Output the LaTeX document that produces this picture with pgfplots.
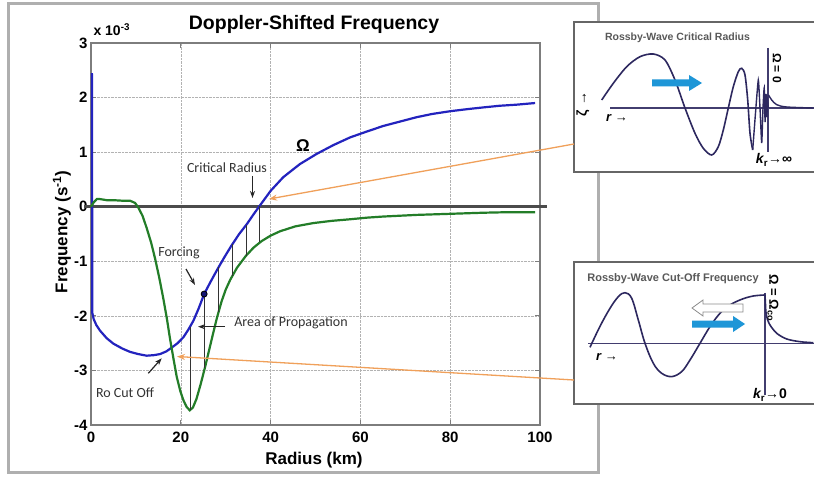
\documentclass[border=0pt]{standalone}
\usepackage{pgfplots}
\pgfplotsset{compat=1.18}
\usepackage{fontspec}
\setmainfont{Liberation Sans}
\newfontfamily\annfont{Carlito}
\usetikzlibrary{arrows.meta}
\definecolor{mblue}{RGB}{35,35,190}
\definecolor{mgreen}{RGB}{35,125,40}
\definecolor{zline}{RGB}{75,75,75}
\definecolor{framegray}{RGB}{175,175,175}
\definecolor{axgray}{RGB}{125,125,125}
\definecolor{orng}{RGB}{240,160,90}
\definecolor{wave}{RGB}{45,40,95}
\definecolor{arrblue}{RGB}{30,150,215}
\begin{document}
\begin{tikzpicture}[x=1pt,y=1pt]
\useasboundingbox (0,0) rectangle (814,480);
\fill[white] (0,0) rectangle (814,480);
\draw[framegray, line width=3pt] (8.5,8) rectangle (598,476.5);

\begin{axis}[
  at={(91pt,55pt)}, anchor=south west,
  scale only axis, width=449pt, height=382pt,
  xmin=0, xmax=100, ymin=-4, ymax=3,
  xtick={0,20,40,60,80,100}, ytick={-4,-3,-2,-1,0,1,2,3},
  xticklabels={0,20,40,60,80,100},
  yticklabels={-4,-3,-2,-1,0,1,2,3},
  grid=major, major grid style={densely dotted, black!30, line width=0.6pt},
  axis line style={axgray, line width=1.6pt},
  tick style={axgray, line width=0.8pt},
  tick align=inside, major tick length=5pt,
  ticklabel style={font=\fontsize{15}{15}\selectfont\bfseries},
  xticklabel style={yshift=-3pt},
  clip=false,
]
\addplot[zline, line width=3.5pt] coordinates {(-1.5,0) (101.5,0)};
\addplot[mblue, line width=2.2pt] coordinates {
(0.2,2.45) (0.3,-1.95) (0.6,-2.06) (1.2,-2.17) (2,-2.27) (3.5,-2.41) (5,-2.51) (7,-2.6) (8.7,-2.66) (10.5,-2.7) (12.4,-2.73) (14,-2.72) (15.4,-2.7) (16.8,-2.65) (18,-2.58) (19.3,-2.5) (20.6,-2.39) (21.7,-2.25) (22.8,-2.09) (24,-1.86) (25.2,-1.6) (26.6,-1.38) (28,-1.17) (29.6,-0.94) (31.3,-0.71) (33,-0.5) (34.7,-0.32) (36.2,-0.14) (37.6,0.02) (40,0.29) (42.8,0.54) (46.5,0.78) (50.3,0.97) (54,1.13) (57.7,1.27) (61.5,1.38) (65.1,1.48) (68.8,1.56) (72.5,1.64) (76,1.7) (80,1.75) (84,1.79) (87.4,1.82) (91,1.85) (94.8,1.87) (98.9,1.9)};
\addplot[mgreen, line width=2.2pt] coordinates {
(0,0) (0.6,0.08) (1.3,0.14) (2,0.14) (3.5,0.12) (5,0.12) (7,0.11) (8.7,0.11) (9.8,0.07) (10.5,-0.01) (11.5,-0.17) (12.4,-0.39) (13.4,-0.66) (14.3,-0.96) (15.2,-1.3) (16.1,-1.68) (16.9,-2.05) (17.6,-2.42) (18.4,-2.8) (19.1,-3.12) (19.9,-3.38) (20.6,-3.55) (21.3,-3.67) (22,-3.73) (22.7,-3.68) (23.5,-3.52) (24.4,-3.26) (25.4,-2.94) (26.3,-2.63) (27.2,-2.32) (28.1,-2.02) (29.1,-1.73) (30,-1.52) (31,-1.34) (32.5,-1.12) (34.5,-0.9) (36.2,-0.75) (38,-0.63) (40,-0.53) (42.1,-0.45) (45.5,-0.36) (49.5,-0.3) (53.5,-0.26) (57.7,-0.23) (61.5,-0.2) (65.1,-0.18) (72.5,-0.15) (80,-0.13) (87.4,-0.11) (93,-0.1) (98.9,-0.1)};
\addplot[black!80, line width=0.7pt] coordinates {(22.05,-2.2) (22.05,-3.73)};
\addplot[black!80, line width=0.7pt] coordinates {(25.2,-1.6) (25.2,-2.95)};
\addplot[black!80, line width=0.7pt] coordinates {(28.4,-1.11) (28.4,-1.93)};
\addplot[black!80, line width=0.7pt] coordinates {(31.5,-0.69) (31.5,-1.27)};
\addplot[black!80, line width=0.7pt] coordinates {(34.5,-0.34) (34.5,-0.9)};
\addplot[black!80, line width=0.7pt] coordinates {(37.6,0.02) (37.6,-0.65)};
\addplot[only marks, mark=*, mark size=3pt, mark options={fill=mblue!60!black, draw=black, line width=0.8pt}] coordinates {(25.2,-1.6)};
\end{axis}

% main texts
\node[font=\fontsize{19.5}{19.5}\selectfont\bfseries] at (314,456) {Doppler-Shifted Frequency};
\node[font=\fontsize{14}{14}\selectfont\bfseries, anchor=west] at (90,450) {x 10\textsuperscript{-3}};
\node[font=\fontsize{17}{17}\selectfont\bfseries] at (314,20) {Radius (km)};
\node[font=\fontsize{17}{17}\selectfont\bfseries, rotate=90] at (62,248) {Frequency (s\textsuperscript{-1})};

% annotations
\node[font=\annfont\fontsize{14}{14}\selectfont, text=black!80] at (227,312) {Critical Radius};
\draw[black!85, line width=1.2pt, -{Stealth[length=7pt,width=5pt]}] (252.5,304) -- (252.5,282);
\node[font=\fontsize{17}{17}\selectfont\bfseries] at (303,334) {Ω};
\node[font=\annfont\fontsize{14}{14}\selectfont, text=black!80] at (179,227) {Forcing};
\draw[black!85, line width=1.2pt, -{Stealth[length=7pt,width=5pt]}] (186,211) -- (195,195);
\node[font=\annfont\fontsize{14}{14}\selectfont, text=black!80] at (291,157) {Area of Propagation};
\draw[black!85, line width=1.2pt, -{Stealth[length=7pt,width=5pt]}] (225,153.3) -- (198,153.3);
\node[font=\annfont\fontsize{14}{14}\selectfont, text=black!80] at (125,87) {Ro Cut Off};
\draw[black!85, line width=1.2pt, -{Stealth[length=7pt,width=5pt]}] (148.3,106.7) -- (161.7,121.7);

% inset 1
\draw[black!60, line width=1.3pt, fill=white] (574,308) rectangle (830,458);
\begin{axis}[at={(574pt,308pt)}, anchor=south west, scale only axis, width=240pt, height=150pt,
  xmin=574, xmax=814, ymin=-64, ymax=86, hide axis, clip=false]
\addplot[wave!90, line width=1.3pt] coordinates {(610,0) (814,0)};
\addplot[wave!90, line width=1.3pt] coordinates {(768,60) (768,-44)};
\addplot[wave, line width=1.6pt, smooth, tension=0.5] coordinates {
(601.7,8) (613.3,24.7) (626.7,41.3) (640,51.3) (653.3,54) (665,48) (675,28) (685,0) (695,-25.3) (703.3,-40.3) (711.7,-47) (718.3,-38.7) (723.3,-22) (728.3,0) (733.3,21.3) (738.3,36.3) (741.7,39.7) (745,33) (747.7,8) (750,-25.3) (752.7,-42)};
\addplot[wave, line width=1.4pt, smooth, tension=0.3] coordinates {
(752.7,-42) (755.5,-5) (758.3,28) (760,0) (761.7,-35) (763,0) (764.2,20) (765.1,-14) (766,14) (766.8,-9) (767.5,8) (768.2,0)};
\addplot[wave, line width=1.4pt, smooth] coordinates {(768.5,13) (771.7,8) (776.7,3.3) (786.7,1) (813.3,0)};
\end{axis}
\node[font=\fontsize{10.5}{10.5}\selectfont\bfseries, text=black!65] at (677.5,442) {Rossby-Wave Critical Radius};
\node[font=\fontsize{14}{14}\selectfont\bfseries, rotate=90] at (583,376) {ζ →};
\node[font=\fontsize{13}{13}\selectfont\bfseries] at (617,362) {\itshape r →};
\node[font=\fontsize{14}{14}\selectfont\bfseries] at (774,320) {\itshape k\textsubscript{\upshape r}\upshape →∞};
\node[font=\fontsize{12}{12}\selectfont\bfseries, rotate=-90] at (777,412) {Ω = 0};
\fill[arrblue] (652,400.5) -- (689,400.5) -- (689,405) -- (702,397) -- (689,389) -- (689,393.5) -- (652,393.5) -- cycle;

% inset 2
\draw[black!60, line width=1.3pt, fill=white] (574,76) rectangle (830,218);
\begin{axis}[at={(574pt,76pt)}, anchor=south west, scale only axis, width=240pt, height=142pt,
  xmin=574, xmax=814, ymin=-60.7, ymax=81.3, hide axis, clip=false]
\addplot[wave!90, line width=1.3pt] coordinates {(588,0) (814,0)};
\addplot[wave!90, line width=1.3pt] coordinates {(765,50.3) (765,-51.7)};
\addplot[wave, line width=1.6pt, smooth, tension=0.6] coordinates {
(590,-4) (600,17) (610,35) (618.3,46.6) (625,50.6) (631.7,45) (638.3,23.3) (645,0) (653.3,-20) (661.7,-30) (671.7,-33.3) (681.7,-28.3) (690,-16.7) (700,0) (710,16.7) (720,30) (730,38.3) (741.7,44) (753.3,47.3) (765,48.3)};
\addplot[wave, line width=1.6pt] coordinates {(765,48.3) (765.8,32) (767,25)};
\addplot[wave, line width=1.6pt, smooth] coordinates {(767,25) (770,18.3) (776.7,10) (786.7,4.3) (800,1.6) (813.3,0.6)};
\end{axis}
\node[font=\fontsize{11}{11}\selectfont\bfseries, text=black!65] at (673,201) {Rossby-Wave Cut-Off Frequency};
\node[font=\fontsize{13}{13}\selectfont\bfseries, rotate=-90] at (773,182) {Ω = Ω\textsubscript{co}};
\node[font=\fontsize{13}{13}\selectfont\bfseries] at (607,123) {\itshape r →};
\node[font=\fontsize{14}{14}\selectfont\bfseries] at (770,85) {\itshape k\textsubscript{\upshape r}\upshape →0};
\filldraw[fill=white, draw=black!45, line width=0.8pt] (743,176) -- (703,176) -- (703,180) -- (692,172) -- (703,164) -- (703,168) -- (743,168) -- cycle;
\fill[arrblue] (692,159.5) -- (733,159.5) -- (733,164) -- (745,156) -- (733,148) -- (733,152.5) -- (692,152.5) -- cycle;

% orange connectors
\draw[orng, line width=1.3pt, -{Stealth[length=8pt,width=6pt]}] (574,336) -- (269,281);
\draw[orng, line width=1.3pt, -{Stealth[length=8pt,width=6pt]}] (574,100) -- (177,123.5);
\end{tikzpicture}
\end{document}
